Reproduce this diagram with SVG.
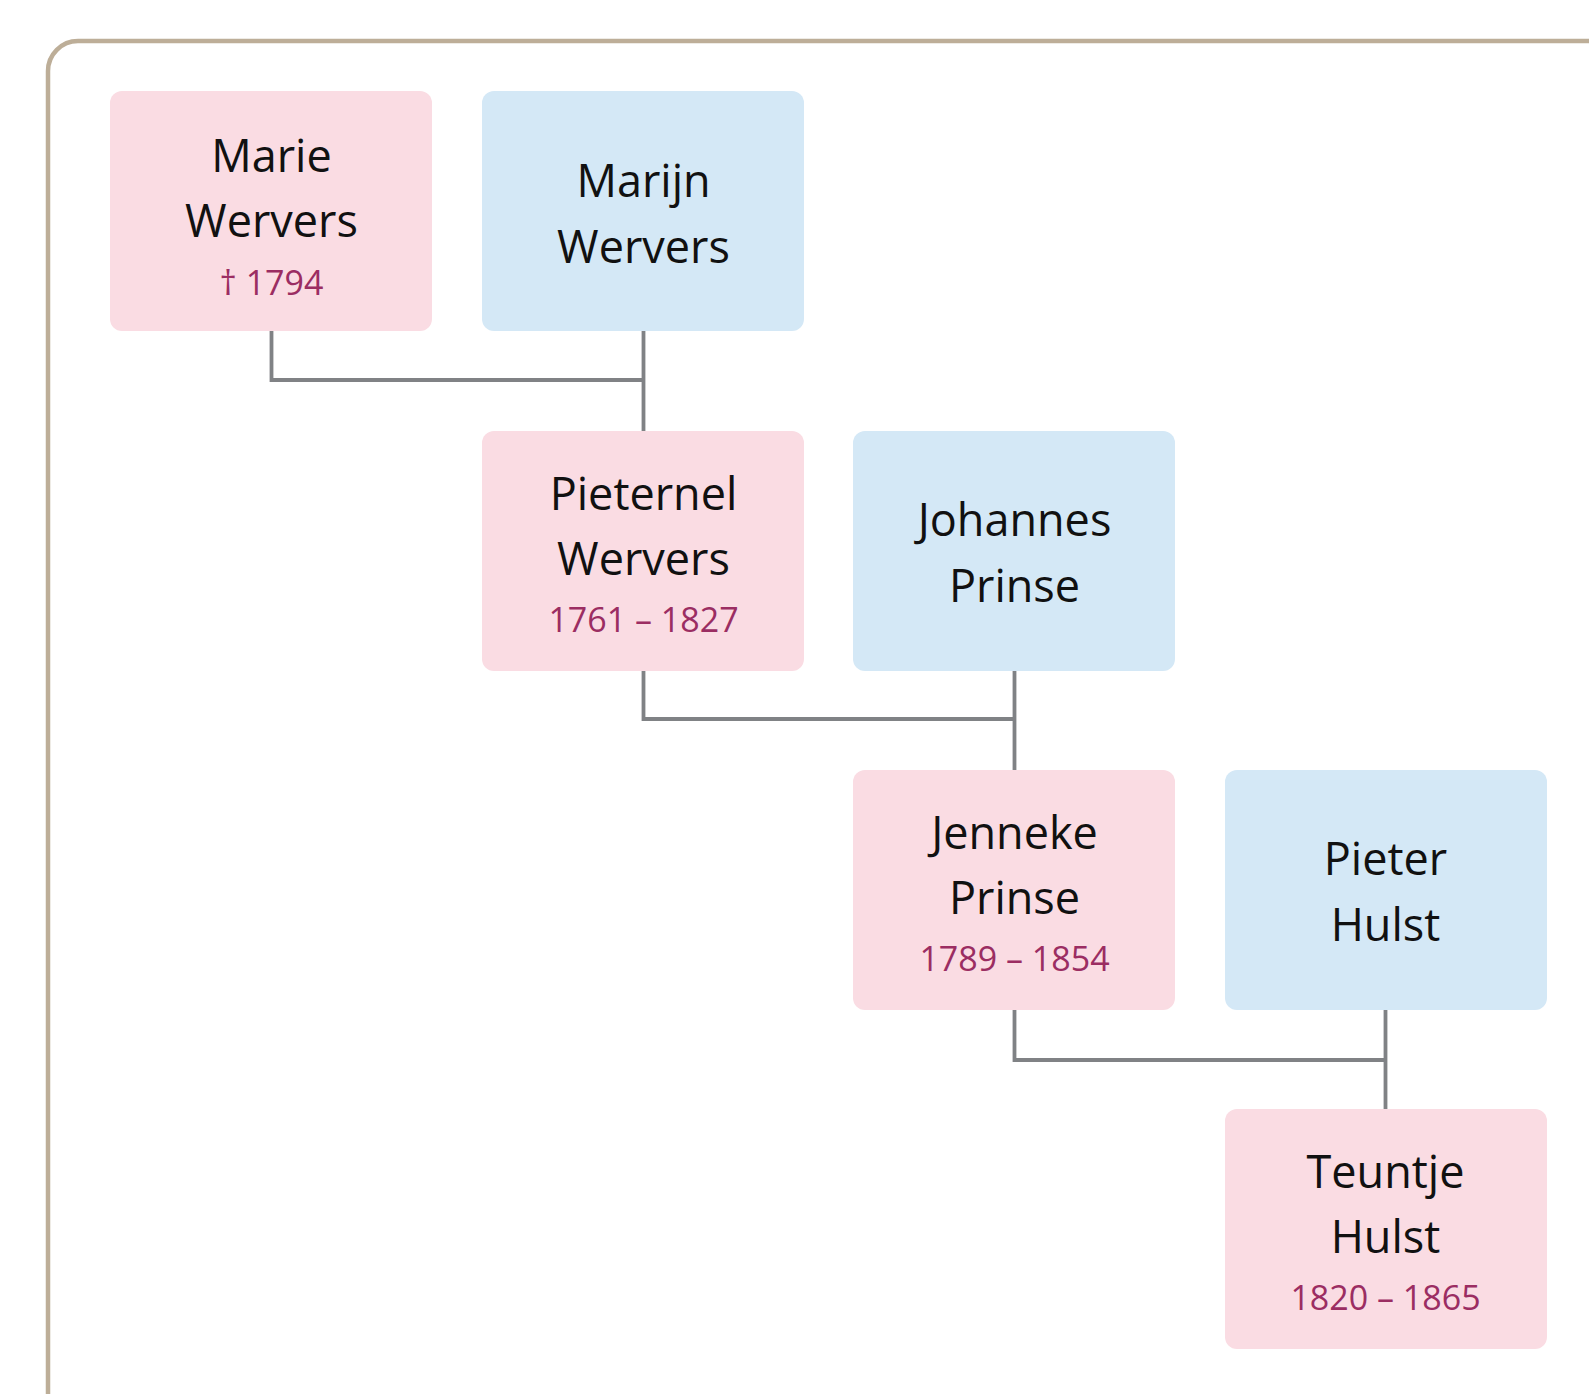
<svg xmlns="http://www.w3.org/2000/svg" width="1589" height="1394" viewBox="0 0 1589 1394">
<style>
.frame{fill:#ffffff;stroke:#bdae98;stroke-width:4.5}
.f{fill:#fadce3}
.m{fill:#d4e8f6}
.name{font-family:"Open Sans","Liberation Sans",sans-serif;font-size:45px;fill:#111111;text-anchor:middle}
.date{font-family:"Open Sans","Liberation Sans",sans-serif;font-size:34px;fill:#9b2d62;text-anchor:middle}
.conn{fill:none;stroke:#808285;stroke-width:3.8}
</style>
<rect width="1589" height="1394" fill="#ffffff"/>
<rect class="frame" x="48" y="41" width="1600" height="1400" rx="30"/>
<g id="connectors">
<path class="conn" d="M271.5 331 V380 H643.5 M643.5 331 V431"/>
<path class="conn" d="M643.5 671 V719 H1014.5 M1014.5 671 V770"/>
<path class="conn" d="M1014.5 1010 V1060 H1385.5 M1385.5 1010 V1109"/>
<path class="conn" d="M1332 1060 H1385.5" stroke-width="4.6"/>
</g>
<g id="marie-wervers">
<rect class="f" x="110" y="91" width="322" height="240" rx="12"/>
<text class="name" x="271.5" y="172">Marie</text>
<text class="name" x="271.5" y="237">Wervers</text>
<text class="date" x="271.5" y="295">† 1794</text>
</g>
<g id="marijn-wervers">
<rect class="m" x="482" y="91" width="322" height="240" rx="12"/>
<text class="name" x="643.5" y="197">Marijn</text>
<text class="name" x="643.5" y="263">Wervers</text>
</g>
<g id="pieternel-wervers">
<rect class="f" x="482" y="431" width="322" height="240" rx="12"/>
<text class="name" x="643.5" y="510">Pieternel</text>
<text class="name" x="643.5" y="575">Wervers</text>
<text class="date" x="643.5" y="632">1761 – 1827</text>
</g>
<g id="johannes-prinse">
<rect class="m" x="853" y="431" width="322" height="240" rx="12"/>
<text class="name" x="1014.5" y="536">Johannes</text>
<text class="name" x="1014.5" y="602">Prinse</text>
</g>
<g id="jenneke-prinse">
<rect class="f" x="853" y="770" width="322" height="240" rx="12"/>
<text class="name" x="1014.5" y="849">Jenneke</text>
<text class="name" x="1014.5" y="914">Prinse</text>
<text class="date" x="1014.5" y="971">1789 – 1854</text>
</g>
<g id="pieter-hulst">
<rect class="m" x="1225" y="770" width="322" height="240" rx="12"/>
<text class="name" x="1385.5" y="875">Pieter</text>
<text class="name" x="1385.5" y="941">Hulst</text>
</g>
<g id="teuntje-hulst">
<rect class="f" x="1225" y="1109" width="322" height="240" rx="12"/>
<text class="name" x="1385.5" y="1188">Teuntje</text>
<text class="name" x="1385.5" y="1253">Hulst</text>
<text class="date" x="1385.5" y="1310">1820 – 1865</text>
</g>
</svg>
